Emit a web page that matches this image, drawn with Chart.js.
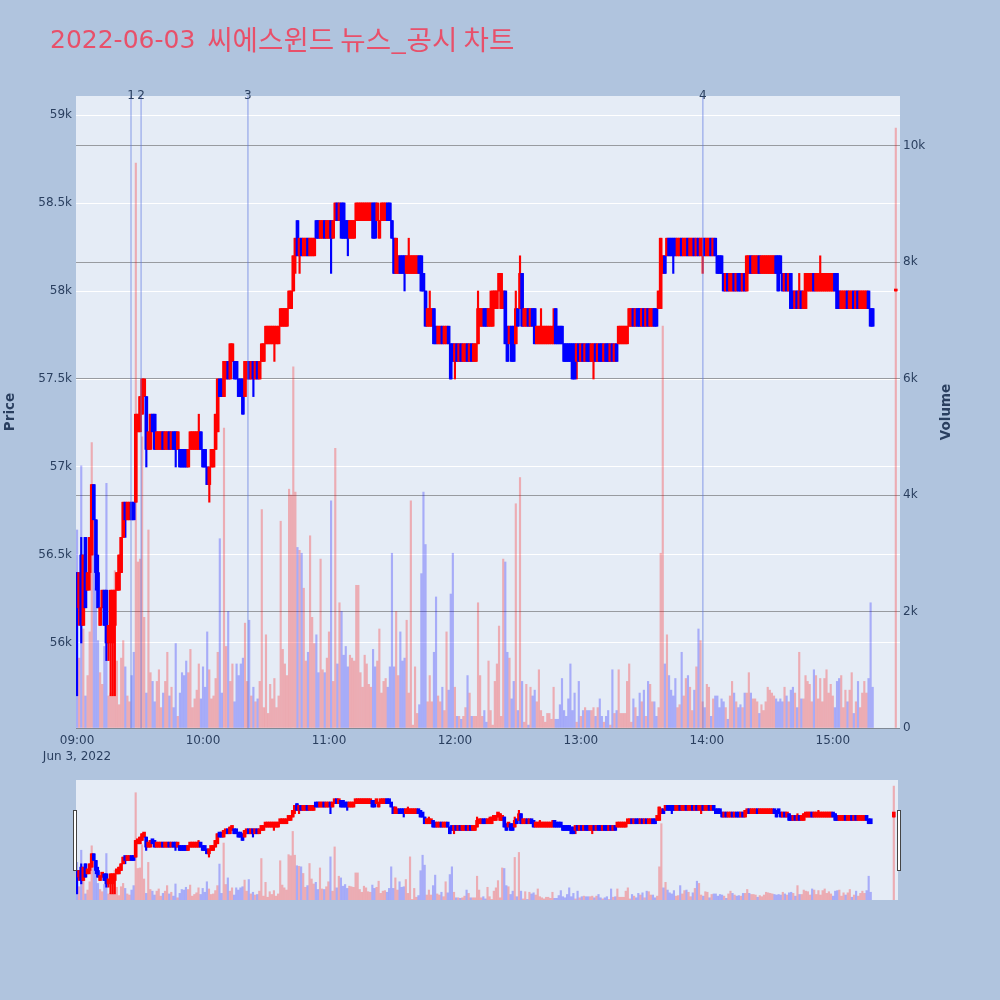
<!DOCTYPE html>
<html>
<head>
<meta charset="utf-8">
<script src="https://cdn.jsdelivr.net/npm/chart.js@4.4.1/dist/chart.umd.min.js"></script>
<style>
  html, body { margin: 0; padding: 0; background: #b0c4de; }
  #wrap { position: relative; width: 1000px; height: 1000px; }
  #main { position: absolute; left: 0; top: 0; }
  #slider { position: absolute; left: 66px; top: 775px; }
</style>
</head>
<body>
<div id="wrap">
  <canvas id="main" width="1000" height="770"></canvas>
  <canvas id="slider" width="842" height="130"></canvas>
</div>
<script>
const chartTitle = '2022-06-03 씨에스윈드 뉴스_공시 차트';
const sessionDate = 'Jun 3, 2022';
const auctionMinute = 390; // 15:30 closing auction, last entry of every array

// one candle per minute from 09:00, prices in units of 100 KRW
const opens = [
  564,562,565,561,566,563,564,565,569,567, 564,561,562,563,563,560,561,560,561,563,
  563,564,566,568,567,567,568,568,568,572, 572,573,574,574,571,571,573,573,571,571,
  571,572,571,571,572,571,572,572,571,571, 571,571,571,570,571,571,571,571,571,572,
  571,571,570,569,570,570,571,572,575,575, 574,575,576,575,576,576,576,575,575,575,
  574,575,576,575,576,575,576,575,576,576, 577,577,577,577,577,577,577,578,578,578,
  578,579,579,580,582,584,582,583,582,582, 583,582,582,582,584,584,583,583,584,583,
  583,584,583,584,585,584,585,585,584,584, 583,583,583,584,584,584,584,584,584,584,
  584,585,585,584,583,584,584,584,585,585, 584,583,581,581,582,582,582,581,581,581,
  581,581,581,582,582,581,580,578,578,578, 579,578,577,577,578,577,577,578,577,577,
  576,577,576,577,576,576,577,576,577,576, 576,577,578,578,579,579,578,578,578,579,
  579,580,579,579,580,578,577,578,578,577, 579,579,581,578,578,579,578,579,579,577,
  577,577,577,577,577,577,577,577,579,578, 578,578,577,577,577,577,577,577,576,577,
  576,577,576,577,577,576,576,577,576,577, 577,576,577,577,576,577,576,577,577,577,
  577,577,577,578,578,579,578,579,579,578, 579,578,579,578,578,579,579,579,579,581,
  582,582,583,583,583,583,582,582,583,582, 582,583,582,582,583,582,583,582,582,583,
  582,582,583,582,583,582,582,582,581,580, 581,580,580,581,580,581,581,580,581,580,
  581,582,581,581,581,582,581,581,581,581, 581,581,581,582,582,582,581,580,581,580,
  581,580,579,580,579,580,579,579,580,580, 580,581,580,580,580,580,580,580,580,580,
  580,581,581,580,579,579,579,580,579,579, 580,579,580,579,579,579,579,580,579,579,
  580
];
const highs = [
  564,564,566,565,566,564,566,569,569,567, 565,562,563,563,563,561,563,563,563,564,
  565,566,568,568,568,568,568,568,573,573, 574,575,575,574,572,573,573,573,572,572,
  572,572,572,572,572,572,572,572,572,571, 571,571,571,571,572,572,572,572,573,572,
  571,571,570,570,571,571,573,575,575,575, 576,576,576,577,577,576,576,575,575,575,
  576,576,576,576,576,576,576,576,577,577, 578,578,578,578,578,578,578,579,579,579,
  579,580,580,582,583,584,583,583,583,583, 583,583,583,583,584,584,584,584,584,584,
  584,584,584,585,585,585,585,585,584,584, 584,584,584,585,585,585,585,585,585,585,
  585,585,585,585,584,585,585,585,585,585, 584,583,583,582,582,582,582,582,583,582,
  582,582,582,582,582,581,580,579,580,579, 579,578,578,578,578,578,578,578,577,577,
  577,577,577,577,577,577,577,577,577,577, 577,580,579,579,579,579,579,580,580,580,
  580,581,581,580,580,578,578,578,578,580, 579,582,581,579,579,579,579,579,579,578,
  578,579,578,578,578,578,578,579,579,578, 578,578,577,577,577,577,577,577,577,577,
  577,577,577,577,577,577,577,577,577,577, 577,577,577,577,577,577,577,577,578,578,
  578,578,578,579,579,579,579,579,579,579, 579,579,579,579,579,579,579,580,583,582,
  582,583,583,583,583,583,583,583,583,583, 583,583,583,583,583,583,583,583,583,583,
  583,583,583,583,583,582,582,582,581,581, 581,581,581,581,581,581,581,581,581,582,
  582,582,582,582,582,582,582,582,582,582, 582,582,582,582,582,582,581,581,581,581,
  581,580,580,580,581,580,580,581,581,581, 581,581,581,581,582,581,581,581,581,581,
  581,581,581,580,580,580,580,580,580,580, 580,580,580,580,580,580,580,580,579,579,
  580
];
const lows = [
  557,561,560,561,562,563,563,565,567,563, 562,561,562,561,559,559,557,557,557,563,
  563,564,566,566,567,567,567,567,568,572, 572,573,574,570,571,571,572,571,571,571,
  571,571,571,571,571,571,571,570,571,570, 570,570,570,570,571,571,571,571,571,571,
  570,570,569,568,570,570,571,572,574,574, 574,575,575,575,576,575,575,574,574,573,
  574,575,575,575,574,575,575,575,576,576, 577,577,577,577,576,577,577,578,578,578,
  578,579,579,580,581,582,581,582,582,582, 582,582,582,582,583,583,583,583,583,583,
  583,581,583,584,584,584,583,583,583,582, 583,583,583,584,584,584,584,584,584,584,
  584,583,583,584,583,584,584,584,584,584, 583,581,581,581,581,581,580,581,581,581,
  581,581,581,581,580,580,578,578,578,578, 577,577,577,577,577,577,577,577,575,576,
  575,576,576,576,576,576,576,576,576,576, 576,577,578,578,578,578,578,578,578,579,
  579,580,579,579,577,576,577,576,576,577, 578,579,578,578,578,578,578,578,577,577,
  577,577,577,577,577,577,577,577,577,577, 577,577,576,576,576,576,575,575,575,576,
  576,576,576,576,576,576,575,576,576,576, 576,576,576,576,576,576,576,576,577,577,
  577,577,577,578,578,578,578,578,578,578, 578,578,578,578,578,578,578,579,579,581,
  581,582,582,582,581,582,582,582,582,582, 582,582,582,582,582,582,582,582,581,582,
  582,582,582,582,582,581,581,581,580,580, 580,580,580,580,580,580,580,580,580,580,
  581,581,581,581,581,581,581,581,581,581, 581,581,581,581,580,581,580,580,580,580,
  579,579,579,579,579,579,579,579,580,580, 580,580,580,580,580,580,580,580,580,580,
  580,580,579,579,579,579,579,579,579,579, 579,579,579,579,579,579,579,579,578,578,
  580
];
const closes = [
  562,564,561,565,562,564,566,569,567,564, 562,562,563,561,560,561,563,563,563,564,
  565,566,568,567,568,568,567,567,573,573, 574,575,575,571,572,573,572,571,572,572,
  572,571,572,572,571,572,571,571,572,570, 570,570,570,571,572,572,572,572,572,571,
  570,570,569,570,571,571,573,575,574,574, 576,576,575,577,577,575,575,574,574,573,
  576,576,575,576,575,576,575,576,577,577, 578,578,578,578,578,578,578,579,579,579,
  579,580,580,582,583,582,583,582,583,583, 582,583,583,583,583,583,584,584,583,584,
  584,583,584,585,584,585,583,583,583,583, 584,584,584,585,585,585,585,585,585,585,
  585,583,583,585,584,585,585,585,584,584, 583,581,583,582,581,581,581,582,582,582,
  582,582,582,581,580,580,578,579,579,579, 577,577,578,578,577,578,578,577,575,576,
  577,576,577,576,577,577,576,577,576,577, 577,579,579,579,578,578,579,579,580,580,
  580,581,581,580,577,576,578,576,576,579, 578,581,578,579,579,578,579,578,577,578,
  578,578,578,578,578,578,578,578,577,577, 577,577,576,576,576,576,575,575,577,576,
  577,576,577,576,576,577,577,576,577,576, 576,577,576,576,577,576,577,576,578,578,
  578,578,578,579,579,578,579,578,578,579, 578,579,578,579,579,578,578,580,583,582,
  581,583,582,582,582,582,583,583,582,583, 583,582,583,583,582,583,582,583,583,582,
  583,583,582,583,582,581,581,581,580,581, 580,581,581,580,581,580,580,581,580,582,
  582,581,582,582,582,581,582,582,582,582, 582,582,582,581,580,581,580,581,580,581,
  579,579,580,579,580,579,580,581,581,581, 581,580,581,581,581,581,581,581,581,581,
  581,580,579,579,580,580,580,579,580,580, 579,580,579,580,580,580,580,579,578,578,
  580
];
// shares traded per minute
const volumes = [
  3400,1200,4500,1700,550,900,1650,4900,3600,2400, 1500,950,750,1400,4200,550,600,1400,2700,1150,
  400,1200,1500,1050,550,450,900,1300,9700,2850, 2900,5000,1900,600,3400,950,800,450,800,1000,
  350,600,800,1300,550,700,350,1450,200,600, 950,900,1150,950,1350,350,500,650,1100,500,
  1050,700,1650,1000,500,550,850,1300,3250,600, 5150,1400,2000,800,1100,450,1100,900,1100,1200,
  1800,800,1850,550,700,450,500,800,3750,350, 1600,250,750,500,850,350,550,3550,1350,1100,
  900,4100,4000,6200,4050,3100,3050,3000,2400,1150, 1300,3300,1900,1450,1600,950,2900,1000,950,1200,
  1650,3900,800,4800,1100,2150,2000,1250,1400,1050, 1250,1200,1150,2450,2450,950,700,1250,1100,750,
  700,1350,1050,1150,1700,600,800,850,700,1050, 3000,1050,2000,900,1650,1150,1200,1850,600,3900,
  50,1050,250,400,2650,4050,3150,450,900,450, 1300,2250,550,450,700,300,1650,650,2300,3000,
  700,200,200,150,200,350,900,600,200,200, 200,2150,900,200,300,100,1150,300,50,800,
  1100,1750,200,2900,2850,1300,1200,500,800,3850, 300,4300,800,100,750,50,700,550,650,450,
  1000,300,200,100,250,250,150,700,150,150, 400,850,300,200,500,1100,300,600,100,800,
  200,300,350,300,300,300,350,200,350,500, 200,100,200,300,50,1000,250,300,1000,250,
  250,250,800,1100,100,500,350,200,600,450, 650,200,800,750,450,450,200,350,3000,6900,
  1100,1600,900,650,550,850,350,400,1300,550, 850,900,700,300,650,1050,1700,1500,450,350,
  750,700,200,500,550,550,350,500,450,350, 150,550,800,600,450,350,400,350,600,600,
  950,600,500,500,450,250,400,300,450,700, 650,600,550,500,450,500,450,700,550,450,
  650,700,600,350,1300,500,500,900,800,750, 450,1000,900,500,850,450,850,1000,600,750,
  550,350,800,850,900,350,650,450,650,950, 250,450,800,350,600,800,600,850,2150,700,
  10300
];

// news / disclosure markers, minutes after 09:00
const newsMinutes = [25.7, 30.5, 81.4, 298.1];
const newsLabels = ['1', '2', '3', '4'];

const timeTicks = [0, 60, 120, 180, 240, 300, 360];
const timeTickLabels = ['09:00', '10:00', '11:00', '12:00', '13:00', '14:00', '15:00'];
const priceTicks = [560, 565, 570, 575, 580, 585, 590];
const volumeTicks = [0, 2000, 4000, 6000, 8000, 10000];

const UP = '#ff0000', DOWN = '#0000ff';
const VOL_UP = 'rgba(255,0,0,0.27)', VOL_DOWN = 'rgba(0,0,255,0.27)';
const PLOT_BG = '#e5ecf6';
const INK = '#2a3f5f';
const FONT = '"DejaVu Sans", "Noto Sans CJK KR", sans-serif';
const KR_FONT = '"Noto Sans CJK KR", "DejaVu Sans", sans-serif';

const last = opens.length - 1;
const minuteOf = i => (i === last ? auctionMinute : i);
const isUp = closes.map((c, i) => c >= opens[i]);

function candleDatasets(minBody) {
  return [
    {
      label: 'volume', yAxisID: 'y1', order: 3, grouped: false, barThickness: 1.5,
      data: volumes.map((v, i) => ({ x: minuteOf(i), y: v })),
      backgroundColor: isUp.map(u => (u ? VOL_UP : VOL_DOWN))
    },
    {
      label: 'wick', yAxisID: 'y', order: 2, grouped: false, barThickness: 1.5,
      data: lows.map((l, i) => ({ x: minuteOf(i), y: [l, highs[i]] })),
      backgroundColor: isUp.map(u => (u ? UP : DOWN))
    },
    {
      label: 'body', yAxisID: 'y', order: 1, grouped: false, barThickness: 3, minBarLength: minBody,
      data: opens.map((o, i) => ({ x: minuteOf(i), y: [o, closes[i]] })),
      backgroundColor: isUp.map(u => (u ? UP : DOWN))
    }
  ];
}

const plotBg = {
  id: 'plotBg',
  beforeDraw(chart) {
    const a = chart.chartArea, ctx = chart.ctx;
    ctx.save();
    ctx.fillStyle = PLOT_BG;
    ctx.fillRect(a.left, a.top, a.right - a.left, a.bottom - a.top);
    ctx.restore();
  }
};

const newsLines = {
  id: 'newsLines',
  afterDatasetsDraw(chart) {
    const a = chart.chartArea, ctx = chart.ctx, xs = chart.scales.x;
    ctx.save();
    ctx.strokeStyle = 'rgba(95,120,225,0.55)';
    ctx.lineWidth = 1.3;
    ctx.fillStyle = INK;
    ctx.font = '12px ' + FONT;
    ctx.textAlign = 'center';
    ctx.textBaseline = 'middle';
    newsMinutes.forEach((m, i) => {
      const px = xs.getPixelForValue(m);
      ctx.beginPath();
      ctx.moveTo(px, a.top);
      ctx.lineTo(px, a.bottom);
      ctx.stroke();
      ctx.fillText(newsLabels[i], px, a.top);
    });
    ctx.restore();
  }
};

const pageText = {
  id: 'pageText',
  afterDraw(chart) {
    const a = chart.chartArea, ctx = chart.ctx;
    ctx.save();
    // date part in the latin font, korean part in the CJK font
    const cut = chartTitle.indexOf(' ');
    const datePart = chartTitle.slice(0, cut);
    const namePart = chartTitle.slice(cut + 1);
    ctx.fillStyle = '#e8506a';
    ctx.textBaseline = 'middle';
    ctx.font = '25px ' + FONT;
    ctx.fillText(datePart, 50, 41);
    const w = ctx.measureText(datePart + ' ').width;
    ctx.font = '27.6px ' + KR_FONT;
    ctx.fillText(namePart, 50 + w + 4, 40);

    ctx.fillStyle = INK;
    ctx.font = 'bold 13.5px ' + FONT;
    ctx.textAlign = 'center';
    const midY = (a.top + a.bottom) / 2;
    [['Price', 10], ['Volume', 946]].forEach(([t, x]) => {
      ctx.save();
      ctx.translate(x, midY);
      ctx.rotate(-Math.PI / 2);
      ctx.fillText(t, 0, 0);
      ctx.restore();
    });
    ctx.restore();
  }
};

const tickFont = { family: FONT, size: 12 };

new Chart(document.getElementById('main'), {
  type: 'bar',
  data: { datasets: candleDatasets(2) },
  options: {
    responsive: false,
    animation: false,
    layout: { padding: { top: 96, right: 45, bottom: 0, left: 0 } },
    plugins: { legend: { display: false }, tooltip: { enabled: false } },
    scales: {
      x: {
        type: 'linear', min: -0.5, max: 392, offset: false,
        grid: { display: false, drawTicks: false }, border: { display: false },
        afterBuildTicks: s => { s.ticks = timeTicks.map(v => ({ value: v })); },
        afterFit: s => { s.height = 42; },
        ticks: {
          autoSkip: false, maxRotation: 0, padding: 5, color: INK,
          font: { family: FONT, size: 12, lineHeight: 1.3 },
          callback: (v, i) => (i === 0 ? [timeTickLabels[0], sessionDate] : timeTickLabels[i])
        }
      },
      y: {
        position: 'left', min: 555.17, max: 591.08,
        grid: { color: '#ffffff', lineWidth: 1, drawTicks: false }, border: { display: false },
        afterBuildTicks: s => { s.ticks = priceTicks.map(v => ({ value: v })); },
        afterFit: s => { s.width = 76; },
        ticks: { padding: 4, color: INK, font: tickFont, callback: v => (v / 10) + 'k' }
      },
      y1: {
        position: 'right', min: 0, max: 10850,
        grid: { color: 'rgba(90,90,90,0.55)', lineWidth: 1, drawTicks: false }, border: { display: false },
        afterBuildTicks: s => { s.ticks = volumeTicks.map(v => ({ value: v })); },
        afterFit: s => { s.width = 55; },
        ticks: { padding: 3, color: INK, font: tickFont, callback: v => (v === 0 ? '0' : (v / 1000) + 'k') }
      }
    }
  },
  plugins: [plotBg, newsLines, pageText]
});

// range slider preview
const handles = {
  id: 'handles',
  afterDraw(chart) {
    const a = chart.chartArea, ctx = chart.ctx;
    ctx.save();
    ctx.fillStyle = '#ffffff';
    ctx.strokeStyle = '#444444';
    ctx.lineWidth = 1;
    [a.left - 3, a.right - 1].forEach(x => {
      ctx.fillRect(x, 35, 4, 61);
      ctx.strokeRect(x + 0.5, 35.5, 3, 60);
    });
    ctx.restore();
  }
};

new Chart(document.getElementById('slider'), {
  type: 'bar',
  data: { datasets: candleDatasets(5) },
  options: {
    responsive: false,
    animation: false,
    layout: { padding: { top: 5, right: 10, bottom: 5, left: 10 } },
    plugins: { legend: { display: false }, tooltip: { enabled: false } },
    scales: {
      x: { type: 'linear', min: -0.5, max: 392, offset: false, display: false },
      y: { min: 555.17, max: 591.08, display: false },
      y1: { min: 0, max: 10850, display: false }
    }
  },
  plugins: [plotBg, handles]
});
</script>
</body>
</html>
